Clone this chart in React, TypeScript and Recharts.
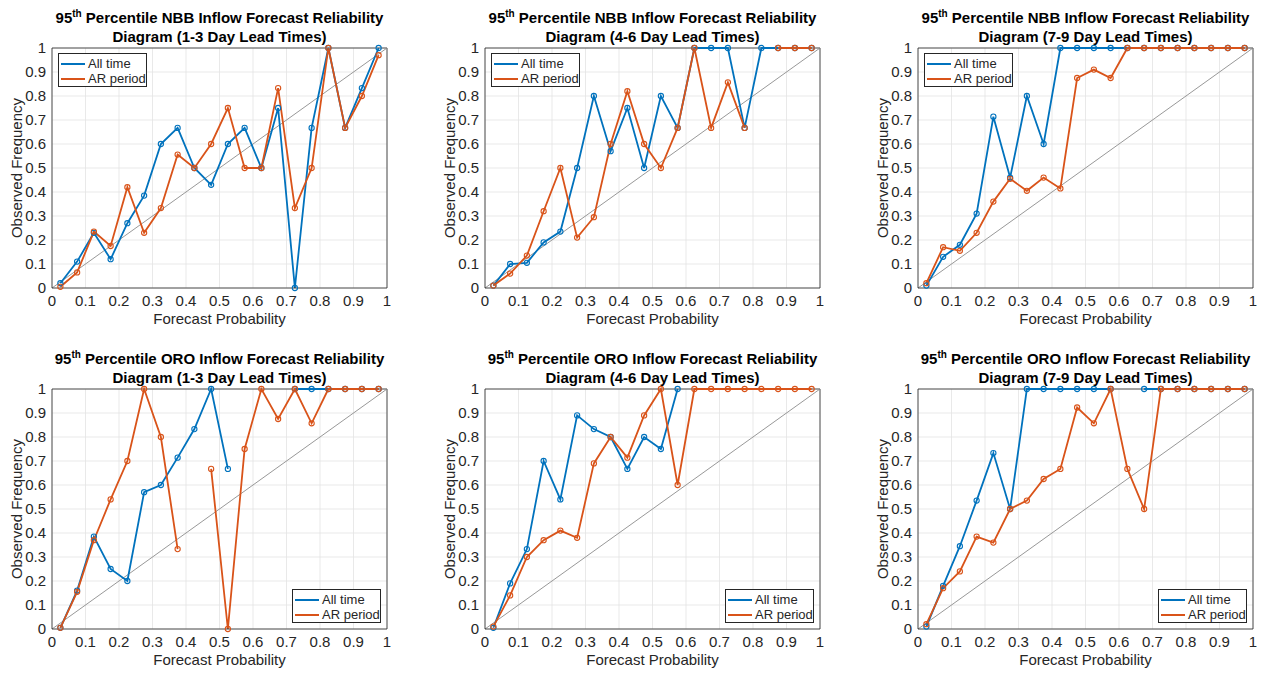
import React from 'react';
import {
  LineChart,
  Line,
  XAxis,
  YAxis,
  CartesianGrid,
  ReferenceLine,
} from 'recharts';

// forecast probability bin centres
const bins = [0.025, 0.075, 0.125, 0.175, 0.225, 0.275, 0.325, 0.375, 0.425, 0.475, 0.525, 0.575, 0.625, 0.675, 0.725, 0.775, 0.825, 0.875, 0.925, 0.975];
const ticks = [0, 0.1, 0.2, 0.3, 0.4, 0.5, 0.6, 0.7, 0.8, 0.9, 1];

const nbb13All = [0.02, 0.11, 0.23, 0.12, 0.27, 0.385, 0.6, 0.667, 0.5, 0.43, 0.6, 0.667, 0.5, 0.75, 0, 0.667, 1, 0.667, 0.833, 1];
const nbb13AR = [0.005, 0.065, 0.235, 0.175, 0.42, 0.23, 0.333, 0.556, 0.5, 0.6, 0.75, 0.5, 0.5, 0.833, 0.333, 0.5, 1, 0.667, 0.8, 0.97];
const nbb46All = [0.01, 0.1, 0.105, 0.19, 0.235, 0.5, 0.8, 0.57, 0.75, 0.5, 0.8, 0.667, 1, 1, 1, 0.667, 1, 1, 1, 1];
const nbb46AR = [0.01, 0.06, 0.135, 0.32, 0.5, 0.21, 0.295, 0.6, 0.82, 0.6, 0.5, 0.667, 1, 0.667, 0.857, 0.667, null, 1, 1, 1];
const nbb79All = [0.01, 0.13, 0.18, 0.31, 0.714, 0.46, 0.8, 0.6, 1, 1, 1, 1, 1, 1, 1, 1, 1, 1, 1, 1];
const nbb79AR = [0.02, 0.17, 0.155, 0.23, 0.36, 0.455, 0.405, 0.46, 0.415, 0.875, 0.91, 0.875, 1, 1, 1, 1, 1, 1, 1, 1];
const oro13All = [0.005, 0.16, 0.385, 0.25, 0.2, 0.57, 0.6, 0.714, 0.833, 1, 0.667, null, null, null, 1, 1, 1, 1, 1, 1];
const oro13AR = [0.005, 0.155, 0.37, 0.54, 0.7, 1, 0.8, 0.333, null, 0.667, 0, 0.75, 1, 0.875, 1, 0.857, 1, 1, 1, 1];
const oro46All = [0.005, 0.19, 0.333, 0.7, 0.54, 0.89, 0.833, 0.8, 0.667, 0.8, 0.75, 1, null, null, null, null, null, null, null, null];
const oro46AR = [0.01, 0.14, 0.3, 0.37, 0.41, 0.38, 0.69, 0.8, 0.714, 0.89, 1, 0.6, 1, 1, 1, 1, 1, 1, 1, 1];
const oro79All = [0.01, 0.18, 0.345, 0.535, 0.733, 0.5, 1, 1, 1, 1, 1, 1, null, 1, 1, 1, 1, 1, 1, 1];
const oro79AR = [0.02, 0.17, 0.24, 0.385, 0.36, 0.5, 0.535, 0.625, 0.667, 0.923, 0.857, 1, 0.667, 0.5, 1, 1, 1, 1, 1, 1];

const BLUE = '#0072BD';
const ORANGE = '#D95319';
const INK = '#262626';
const FONT = '"Liberation Sans", Arial, Helvetica, sans-serif';

const PW = 335; // plot width
const PH = 240; // plot height

type PanelDef = {
  site: string;
  lead: string;
  all: (number | null)[];
  ar: (number | null)[];
  x: number;
  y: number;
  legendBottom: boolean;
};

const panels: PanelDef[] = [
  { site: 'NBB', lead: '1-3', all: nbb13All, ar: nbb13AR, x: 52, y: 48, legendBottom: false },
  { site: 'NBB', lead: '4-6', all: nbb46All, ar: nbb46AR, x: 485, y: 48, legendBottom: false },
  { site: 'NBB', lead: '7-9', all: nbb79All, ar: nbb79AR, x: 918, y: 48, legendBottom: false },
  { site: 'ORO', lead: '1-3', all: oro13All, ar: oro13AR, x: 52, y: 389, legendBottom: true },
  { site: 'ORO', lead: '4-6', all: oro46All, ar: oro46AR, x: 485, y: 389, legendBottom: true },
  { site: 'ORO', lead: '7-9', all: oro79All, ar: oro79AR, x: 918, y: 389, legendBottom: true },
];

const LegendBox = ({ bottom }: { bottom: boolean }) => (
  <div
    style={{
      position: 'absolute',
      left: bottom ? PW - 95 : 6,
      top: bottom ? PH - 40 : 5,
      width: 89,
      height: 34,
      background: '#fff',
      border: `1px solid ${INK}`,
      fontSize: 13,
      lineHeight: '15px',
      color: INK,
      boxSizing: 'border-box',
      padding: '2px 0 0 2px',
      whiteSpace: 'nowrap',
    }}
  >
    {[{ c: BLUE, t: 'All time' }, { c: ORANGE, t: 'AR period' }].map((e) => (
      <div key={e.t} style={{ display: 'flex', alignItems: 'center', height: 15 }}>
        <span style={{ display: 'inline-block', flex: 'none', width: 24, height: 2, background: e.c, marginRight: 3 }} />
        <span>{e.t}</span>
      </div>
    ))}
  </div>
);

const Panel = ({ p }: { p: PanelDef }) => {
  const data = bins.map((b, i) => ({ p: b, all: p.all[i], ar: p.ar[i] }));
  const dot = (color: string) => ({ r: 2.6, fill: 'none', stroke: color, strokeWidth: 1.1 });
  return (
    <>
      <div
        style={{
          position: 'absolute',
          left: p.x + PW / 2 - 220,
          top: p.y - 40,
          width: 440,
          textAlign: 'center',
          fontWeight: 'bold',
          fontSize: 15,
          lineHeight: '19px',
          color: '#000',
        }}
      >
        <div>
          95<sup style={{ fontSize: 10, lineHeight: 0 }}>th</sup> Percentile {p.site} Inflow Forecast Reliability
        </div>
        <div>Diagram ({p.lead} Day Lead Times)</div>
      </div>
      <div
        style={{
          position: 'absolute',
          left: p.x + PW / 2 - 100,
          top: p.y + PH + 22,
          width: 200,
          textAlign: 'center',
          fontSize: 15,
          lineHeight: '18px',
          color: INK,
        }}
      >
        Forecast Probability
      </div>
      <div
        style={{
          position: 'absolute',
          left: p.x - 35 - 100,
          top: p.y + PH / 2 - 9,
          width: 200,
          textAlign: 'center',
          fontSize: 15,
          lineHeight: '18px',
          color: INK,
          transform: 'rotate(-90deg)',
        }}
      >
        Observed Frequency
      </div>
      <div style={{ position: 'absolute', left: p.x - 50, top: p.y - 10 }}>
        <LineChart width={PW + 60} height={PH + 40} data={data} margin={{ top: 10, right: 10, left: 0, bottom: 0 }}>
          <CartesianGrid stroke="#e3e3e3" strokeWidth={0.8} />
          <XAxis
            dataKey="p"
            type="number"
            domain={[0, 1]}
            ticks={ticks}
            height={30}
            tickLine={false}
            tickSize={5}
            axisLine={{ stroke: INK, strokeWidth: 0.8 }}
            tick={{ fontSize: 15, fill: INK }}
          />
          <YAxis
            type="number"
            domain={[0, 1]}
            ticks={ticks}
            width={50}
            tickLine={false}
            tickSize={4}
            axisLine={{ stroke: INK, strokeWidth: 0.8 }}
            tick={{ fontSize: 15, fill: INK }}
          />
          <ReferenceLine y={1} stroke={INK} strokeWidth={0.8} />
          <ReferenceLine x={1} stroke={INK} strokeWidth={0.8} />
          <ReferenceLine
            segment={[{ x: 0, y: 0 }, { x: 1, y: 1 }]}
            stroke="#8c8c8c"
            strokeWidth={0.9}
          />
          <Line
            dataKey="all"
            stroke={BLUE}
            strokeWidth={1.8}
            dot={dot(BLUE)}
            isAnimationActive={false}
          />
          <Line
            dataKey="ar"
            stroke={ORANGE}
            strokeWidth={1.8}
            dot={dot(ORANGE)}
            isAnimationActive={false}
          />
        </LineChart>
      </div>
      <div style={{ position: 'absolute', left: p.x, top: p.y, width: PW, height: PH, pointerEvents: 'none' }}>
        <LegendBox bottom={p.legendBottom} />
      </div>
    </>
  );
};

export default function App() {
  return (
    <div
      style={{
        position: 'absolute',
        left: 0,
        top: 0,
        width: 1263,
        height: 673,
        background: '#fff',
        fontFamily: FONT,
        overflow: 'hidden',
      }}
    >
      {panels.map((p) => (
        <Panel key={p.site + p.lead} p={p} />
      ))}
    </div>
  );
}
